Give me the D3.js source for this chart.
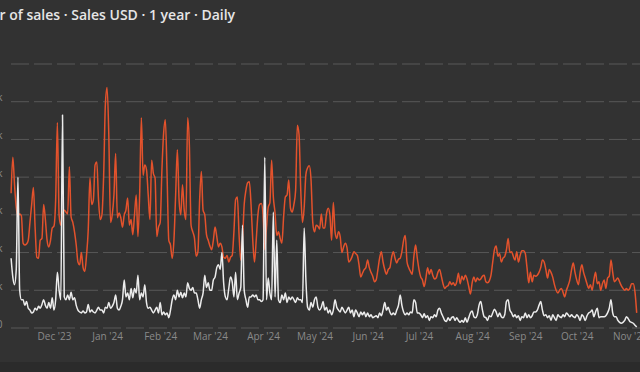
<!DOCTYPE html>
<html><head><meta charset="utf-8">
<script src="https://cdn.jsdelivr.net/npm/d3@7"></script>
<style>
html,body{margin:0;padding:0;background:#323232;overflow:hidden;}
svg{display:block;}
</style></head><body>
<svg id="c" width="640" height="372"></svg>
<script>
const title = "Number of sales · Sales USD · 1 year · Daily";
const startDate = "2023-11-06";
const yTicks = [0, 40, 80, 120, 160, 200, 240, 280];
const yTickLabels = ["0", "40k", "80k", "120k", "160k", "200k", "240k", ""];
const monthTicks = ["2023-12-01","2024-01-01","2024-02-01","2024-03-01","2024-04-01","2024-05-01",
  "2024-06-01","2024-07-01","2024-08-01","2024-09-01","2024-10-01","2024-11-01"];

const salesUSD = [
143,181,152,128,119,121,119,90,88,89,
93,112,131,149,107,75,74,93,95,131,
115,93,86,93,106,108,136,218,120,109,
122,125,123,121,171,118,112,102,88,70,
67,80,64,60,77,104,159,131,136,173,
176,136,115,120,162,237,255,205,112,120,
141,185,117,122,117,107,120,125,138,109,
115,99,120,141,97,141,223,162,173,168,
141,115,178,164,159,97,107,112,168,207,
221,162,93,88,74,93,141,189,136,120,
152,125,115,223,194,109,102,95,76,81,
136,166,125,120,99,93,87,83,93,107,
97,86,90,86,75,74,77,70,75,77,
102,136,139,99,72,93,131,146,154,155,
131,93,70,93,120,131,132,120,83,106,
128,133,178,139,122,98,102,95,90,118,
139,141,157,127,123,131,146,215,205,146,
112,128,163,170,172,157,112,102,109,108,
105,121,106,106,121,127,120,93,133,102,
95,102,97,80,86,90,85,70,72,76,
81,79,77,67,54,58,62,64,72,64,
59,55,49,51,62,74,81,70,62,57,
62,64,75,81,74,69,73,74,81,93,
98,70,64,60,57,76,88,74,62,54,
51,44,53,64,57,62,56,52,53,59,
62,55,47,42,44,45,49,46,48,45,
49,58,47,55,51,56,52,44,36,48,
54,49,53,51,52,55,56,49,48,50,
56,70,83,87,76,79,70,74,76,83,
95,80,81,76,72,81,70,77,82,82,
79,64,48,59,49,56,55,56,59,64,
72,70,62,53,62,59,54,46,40,37,
40,42,38,33,40,45,51,62,69,59,
51,46,59,67,59,53,47,42,46,40,
51,59,47,49,40,47,51,42,53,55,
72,59,49,51,53,49,45,42,40,42,
40,42,47,47,38,16
];

const numSales = [
74,54,46,62,160,40,30,30,24,28,
21,19,16,17,21,19,23,21,25,30,
24,21,27,21,32,19,30,59,40,30,
226,33,30,35,30,38,30,32,24,19,
17,16,18,16,17,25,17,19,17,16,
19,22,19,19,16,22,21,27,21,23,
27,35,21,19,23,30,51,33,37,30,
42,32,42,37,56,30,37,33,46,27,
21,22,19,16,19,22,16,27,14,17,
14,16,11,19,30,35,30,40,33,38,
32,37,33,48,42,40,43,37,37,30,
21,30,37,56,43,48,40,40,51,54,
64,67,62,80,48,33,30,42,54,49,
33,59,30,37,43,109,40,30,22,33,
33,35,33,35,30,30,28,30,181,30,
53,37,30,123,33,93,30,27,35,30,
37,27,33,30,33,30,27,32,30,30,
27,106,51,22,19,27,22,30,33,22,
19,22,28,19,22,16,19,14,19,30,
22,19,17,22,19,16,19,22,16,19,
12,19,16,12,17,14,17,12,16,12,
14,11,12,13,11,16,13,19,27,19,
22,17,14,16,14,19,24,35,24,17,
14,16,14,17,16,30,27,16,16,14,
11,15,11,13,8,12,11,14,12,19,
21,16,12,8,7,11,8,11,12,8,
11,8,6,8,6,11,6,11,16,18,
12,11,14,24,28,19,12,11,8,13,
12,16,20,17,12,16,12,11,14,28,
30,19,16,12,14,11,13,8,12,11,
16,11,14,11,13,17,17,19,24,28,
19,13,14,11,13,8,14,11,8,14,
12,11,14,12,16,14,12,14,12,11,
14,12,8,14,12,8,13,16,17,19,
12,17,21,11,12,12,12,13,16,21,
30,16,12,12,8,6,5,6,8,12,
10,7,6,5,3,1
];

const W = 640, H = 372;
const svg = d3.select("#c");
const parse = d3.timeParse("%Y-%m-%d");
const start = parse(startDate);
const dates = salesUSD.map((_, i) => d3.timeDay.offset(start, i));

svg.append("rect").attr("width", W).attr("height", H).attr("fill", "#323232");
svg.append("rect").attr("y", 362).attr("width", W).attr("height", H - 362).attr("fill", "#2b2b2b");

const x = d3.scaleTime().domain([dates[0], dates[dates.length - 1]]).range([11.1, 636.7]);
const y = d3.scaleLinear().domain([0, 280]).range([328, 64]);

// gridlines
svg.append("g").selectAll("line").data(yTicks).join("line")
  .attr("x1", 11).attr("x2", 660)
  .attr("y1", d => y(d)).attr("y2", d => y(d))
  .attr("stroke", "#585858").attr("stroke-width", 1)
  .attr("stroke-dasharray", "18,5");

// y labels (clipped by the left edge)
svg.append("g").selectAll("text").data(yTicks).join("text")
  .attr("x", 2.5).attr("y", d => y(d) - 0.5)
  .attr("text-anchor", "end")
  .attr("font-family", "'Open Sans', sans-serif").attr("font-size", 10)
  .attr("fill", "#8a8a8a")
  .text((d, i) => yTickLabels[i]);

// x axis labels
const fmt = d3.timeFormat("%b '%y");
const xAxis = d3.axisBottom(x).tickValues(monthTicks.map(parse)).tickFormat(fmt).tickSize(0).tickPadding(0);
const gx = svg.append("g").attr("transform", "translate(0,333)").call(xAxis);
gx.select(".domain").remove();
gx.selectAll("text").attr("font-family", "'Open Sans', sans-serif").attr("font-size", 10)
  .attr("fill", "#8a8a8a").attr("dy", "0.71em");

// lines
const line = vals => d3.line().x((d, i) => x(dates[i])).y(d => y(d)).curve(d3.curveMonotoneX)(vals);
svg.append("path").attr("d", line(salesUSD)).attr("fill", "none")
  .attr("stroke", "#e3522c").attr("stroke-width", 1.5).attr("stroke-linejoin", "round");
svg.append("path").attr("d", line(numSales)).attr("fill", "none")
  .attr("stroke", "#ececec").attr("stroke-width", 1.5).attr("stroke-linejoin", "round");

// title, shifted so that its start is cut by the left edge
const t = svg.append("text").attr("y", 19.5)
  .attr("font-family", "'Open Sans', sans-serif").attr("font-size", 14).attr("font-weight", 600)
  .attr("fill", "#e6e6e6").text(title);
const probe = svg.append("text").attr("font-family", "'Open Sans', sans-serif").attr("font-size", 14)
  .attr("font-weight", 600).text("Numbe");
const pw = probe.node().getComputedTextLength();
probe.remove();
t.attr("x", -pw - 0.5);
</script>
</body></html>
